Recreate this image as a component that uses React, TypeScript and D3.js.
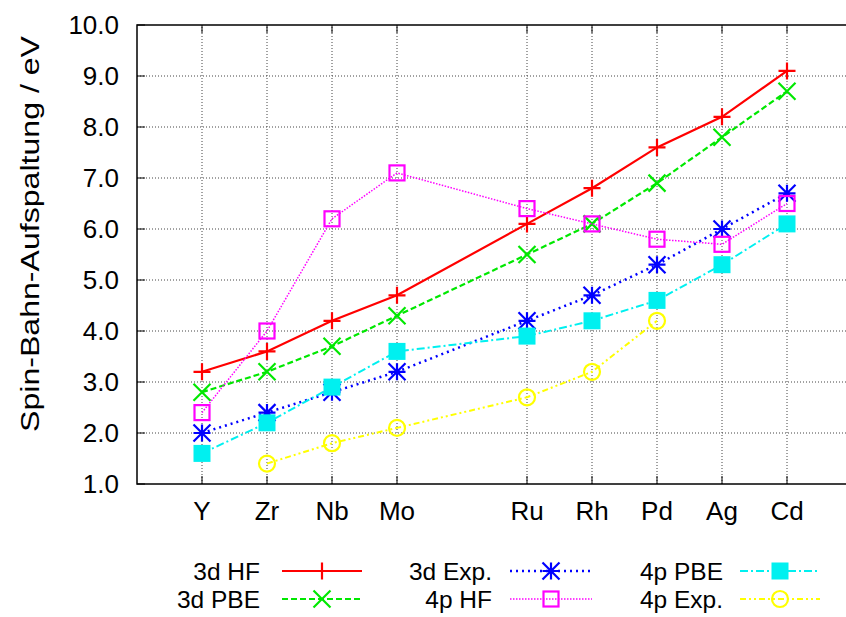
import React, { useEffect, useRef } from 'react';
import * as d3 from 'd3';

const elements = ['Y', 'Zr', 'Nb', 'Mo', 'Ru', 'Rh', 'Pd', 'Ag', 'Cd'];
const positions = [0, 1, 2, 3, 5, 6, 7, 8, 9];
const yTicks = [1, 2, 3, 4, 5, 6, 7, 8, 9, 10];

const hf3d = [3.2, 3.6, 4.2, 4.7, 6.1, 6.8, 7.6, 8.2, 9.1];
const pbe3d = [2.8, 3.2, 3.7, 4.3, 5.5, 6.1, 6.9, 7.8, 8.7];
const exp3d = [2.0, 2.4, 2.8, 3.2, 4.2, 4.7, 5.3, 6.0, 6.7];
const hf4p = [2.4, 4.0, 6.2, 7.1, 6.4, 6.1, 5.8, 5.7, 6.5];
const pbe4p = [1.6, 2.2, 2.9, 3.6, 3.9, 4.2, 4.6, 5.3, 6.1];
const exp4p = [null, 1.4, 1.8, 2.1, 2.7, 3.2, 4.2, null, null];

type Series = {
  name: string;
  values: (number | null)[];
  color: string;
  dash: string;
  width: number;
  marker: string;
};

const series: Series[] = [
  { name: '3d HF', values: hf3d, color: '#ff0000', dash: '', width: 2.2, marker: 'plus' },
  { name: '3d PBE', values: pbe3d, color: '#00e800', dash: '6,3', width: 2.2, marker: 'cross' },
  { name: '3d Exp.', values: exp3d, color: '#0000ff', dash: '2,4', width: 2.5, marker: 'star' },
  { name: '4p HF', values: hf4p, color: '#ff00ff', dash: '1.5,1.5', width: 1.5, marker: 'square' },
  { name: '4p PBE', values: pbe4p, color: '#00f0f0', dash: '8,3,2,3', width: 2, marker: 'fsquare' },
  { name: '4p Exp.', values: exp4p, color: '#ffff00', dash: '6,3,2,3,2,3', width: 2, marker: 'circle' },
];

function drawMarker(g: any, kind: string, x: number, y: number, color: string) {
  const s = 8.5;
  if (kind === 'plus') {
    g.append('path').attr('d', `M${x - s},${y}H${x + s}M${x},${y - s}V${y + s}`)
      .attr('stroke', color).attr('stroke-width', 2.2).attr('fill', 'none');
  } else if (kind === 'cross') {
    g.append('path').attr('d', `M${x - s},${y - s}L${x + s},${y + s}M${x - s},${y + s}L${x + s},${y - s}`)
      .attr('stroke', color).attr('stroke-width', 2.2).attr('fill', 'none');
  } else if (kind === 'star') {
    g.append('path').attr('d', `M${x - s},${y}H${x + s}M${x},${y - s}V${y + s}M${x - s},${y - s}L${x + s},${y + s}M${x - s},${y + s}L${x + s},${y - s}`)
      .attr('stroke', color).attr('stroke-width', 2.2).attr('fill', 'none');
  } else if (kind === 'square') {
    g.append('rect').attr('x', x - s + 1).attr('y', y - s + 1).attr('width', 2 * s - 2).attr('height', 2 * s - 2)
      .attr('stroke', color).attr('stroke-width', 2.2).attr('fill', 'none');
  } else if (kind === 'fsquare') {
    g.append('rect').attr('x', x - s).attr('y', y - s).attr('width', 2 * s).attr('height', 2 * s)
      .attr('fill', color);
  } else if (kind === 'circle') {
    g.append('circle').attr('cx', x).attr('cy', y).attr('r', s - 0.5)
      .attr('stroke', color).attr('stroke-width', 2.2).attr('fill', 'none');
  }
}

export default function App() {
  const svgRef = useRef<SVGSVGElement>(null);

  useEffect(() => {
    const svg = d3.select(svgRef.current);
    svg.selectAll('*').remove();

    const width = 846;
    const height = 617;
    const font = '"Liberation Sans", Arial, sans-serif';
    const fs = 26;

    const x = d3.scaleLinear().domain([-1, 10]).range([137, 852]);
    const y = d3.scaleLinear().domain([1, 10]).range([484, 25]);

    svg.append('rect').attr('width', width).attr('height', height).attr('fill', '#fff');

    // grid
    const grid = svg.append('g').attr('stroke', '#444').attr('stroke-width', 1).attr('stroke-dasharray', '1,2');
    yTicks.slice(1, -1).forEach(t => {
      grid.append('line').attr('x1', x(-1)).attr('x2', x(10)).attr('y1', y(t)).attr('y2', y(t));
    });
    positions.forEach(p => {
      grid.append('line').attr('x1', x(p)).attr('x2', x(p)).attr('y1', y(1)).attr('y2', y(10));
    });

    // ticks
    const ticks = svg.append('g').attr('stroke', '#000').attr('stroke-width', 1);
    yTicks.forEach(t => {
      ticks.append('line').attr('x1', x(-1)).attr('x2', x(-1) + 8).attr('y1', y(t)).attr('y2', y(t));
    });
    positions.forEach(p => {
      ticks.append('line').attr('x1', x(p)).attr('x2', x(p)).attr('y1', y(1)).attr('y2', y(1) - 8);
      ticks.append('line').attr('x1', x(p)).attr('x2', x(p)).attr('y1', y(10)).attr('y2', y(10) + 8);
    });

    // frame
    svg.append('rect').attr('x', x(-1)).attr('y', y(10)).attr('width', x(10) - x(-1)).attr('height', y(1) - y(10))
      .attr('fill', 'none').attr('stroke', '#000').attr('stroke-width', 1.5);

    // tick labels
    yTicks.forEach(t => {
      svg.append('text').attr('x', 119).attr('y', y(t) + 9).attr('text-anchor', 'end')
        .attr('font-family', font).attr('font-size', fs).text(t.toFixed(1));
    });
    elements.forEach((e, i) => {
      svg.append('text').attr('x', x(positions[i])).attr('y', 520).attr('text-anchor', 'middle')
        .attr('font-family', font).attr('font-size', fs).text(e);
    });

    svg.append('text').attr('transform', `translate(39,234) rotate(-90)`).attr('text-anchor', 'middle')
      .attr('font-family', font).attr('font-size', fs)
      .attr('textLength', 396).attr('lengthAdjust', 'spacingAndGlyphs')
      .text('Spin-Bahn-Aufspaltung / eV');

    // series
    const line = d3.line<{ p: number; v: number | null }>()
      .defined(d => d.v !== null)
      .x(d => x(d.p))
      .y(d => y(d.v as number));

    series.forEach(s => {
      const pts = s.values.map((v, i) => ({ p: positions[i], v }));
      svg.append('path').datum(pts).attr('d', line as any)
        .attr('fill', 'none').attr('stroke', s.color).attr('stroke-width', s.width)
        .attr('stroke-dasharray', s.dash || null);
      const g = svg.append('g');
      pts.forEach(d => {
        if (d.v !== null) drawMarker(g, s.marker, x(d.p), y(d.v), s.color);
      });
    });

    // legend
    const cols = [
      { textX: 260, x1: 282, x2: 362 },
      { textX: 492, x1: 510, x2: 592 },
      { textX: 723, x1: 740, x2: 820 },
    ];
    const rows = [571, 599];
    series.forEach((s, i) => {
      const c = cols[Math.floor(i / 2)];
      const ry = rows[i % 2];
      svg.append('text').attr('x', c.textX).attr('y', ry + 9).attr('text-anchor', 'end')
        .attr('font-family', font).attr('font-size', 24.5).text(s.name);
      svg.append('line').attr('x1', c.x1).attr('x2', c.x2).attr('y1', ry).attr('y2', ry)
        .attr('stroke', s.color).attr('stroke-width', s.width).attr('stroke-dasharray', s.dash || null);
      drawMarker(svg.append('g'), s.marker, (c.x1 + c.x2) / 2, ry, s.color);
    });
  }, []);

  return <svg ref={svgRef} width={846} height={617} style={{ display: 'block', position: 'absolute', left: 0, top: 0 }} />;
}
